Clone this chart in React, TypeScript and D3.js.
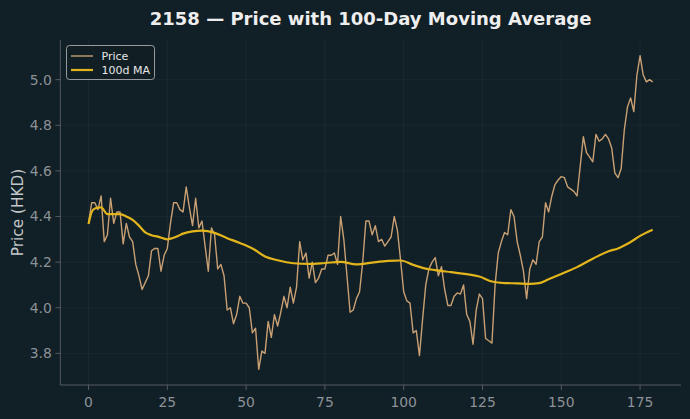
import React, { useEffect } from "react";
import * as d3 from "d3";

// daily close, day 0..179
const price = [
  4.37, 4.46, 4.46, 4.43, 4.49, 4.29, 4.32, 4.48, 4.37, 4.42,
  4.42, 4.28, 4.37, 4.31, 4.29, 4.19, 4.14, 4.08, 4.11, 4.14,
  4.25, 4.26, 4.26, 4.16, 4.23, 4.26, 4.37, 4.46, 4.46, 4.43,
  4.42, 4.53, 4.44, 4.36, 4.48, 4.35, 4.38, 4.27, 4.16, 4.35,
  4.32, 4.17, 4.19, 4.14, 3.99, 4.0, 3.93, 3.97, 4.05, 4.02,
  4.02, 4.0, 3.89, 3.91, 3.73, 3.81, 3.8, 3.94, 3.87, 3.97,
  3.92, 3.98, 4.05, 4.0, 4.09, 4.02, 4.09, 4.29, 4.21, 4.24,
  4.13, 4.2, 4.11, 4.13, 4.17, 4.17, 4.23, 4.23, 4.24, 4.19,
  4.4, 4.3, 4.14, 3.98, 3.99, 4.04, 4.07, 4.2, 4.38, 4.38,
  4.32, 4.36, 4.29, 4.3, 4.27, 4.29, 4.31, 4.4, 4.34, 4.21,
  4.07, 4.03, 4.02, 3.89, 3.9, 3.79, 3.95, 4.1, 4.17, 4.2,
  4.22, 4.14, 4.18, 4.08, 4.01, 4.01, 4.05, 4.065, 4.06, 4.1,
  3.97, 3.94, 3.84, 3.99, 4.06, 4.04, 3.865, 3.855, 3.845, 4.1,
  4.24, 4.29, 4.33, 4.32, 4.43, 4.4, 4.29, 4.23, 4.16, 4.04,
  4.17, 4.21, 4.19, 4.29, 4.31, 4.46, 4.42, 4.49, 4.54, 4.56,
  4.575, 4.57, 4.53, 4.52, 4.51, 4.49, 4.62, 4.75, 4.68, 4.66,
  4.64, 4.76, 4.73, 4.74, 4.76, 4.74, 4.7, 4.59, 4.57, 4.61,
  4.78, 4.88, 4.92, 4.86, 5.02, 5.105, 5.02, 4.99, 5.0, 4.99,
];

// 100d moving average, read at these days
const maDays = [
  0, 1, 2, 4, 6, 8, 10, 12, 14, 16, 18, 20, 22, 25, 28, 30, 33, 36, 40, 44,
  48, 52, 56, 60, 65, 70, 75, 80, 85, 90, 95, 99, 103, 106, 110, 115, 120,
  124, 128, 132, 136, 140, 143, 146, 150, 155, 160, 165, 168, 172, 175, 179,
];
const maValues = [
  4.367, 4.42, 4.435, 4.44, 4.41, 4.41, 4.41, 4.4, 4.385, 4.36, 4.33, 4.318,
  4.312, 4.3, 4.312, 4.325, 4.335, 4.338, 4.328, 4.305, 4.284, 4.26, 4.225,
  4.208, 4.195, 4.192, 4.196, 4.201, 4.19, 4.198, 4.205, 4.207, 4.188, 4.175,
  4.165, 4.156, 4.147, 4.137, 4.115, 4.108, 4.107, 4.105, 4.108, 4.125, 4.148,
  4.178, 4.215, 4.248, 4.26, 4.288, 4.315, 4.342,
];

const xTicks = [0, 25, 50, 75, 100, 125, 150, 175];
const yTicks = [3.8, 4.0, 4.2, 4.4, 4.6, 4.8, 5.0];

const BG = "#111f26";
const PRICE_COLOR = "#c9a074";
const MA_COLOR = "#e3b51c";
const FONT = "DejaVu Sans, sans-serif";

export default function App() {
  useEffect(() => {
    document.body.style.margin = "0";
    document.body.style.background = BG;
  }, []);

  const width = 690;
  const height = 419;
  const left = 60.3;
  const right = 680.9;
  const top = 40;
  const bottom = 385;

  // matplotlib style 5% margins
  const n = price.length;
  const xPad = (n - 1) * 0.05;
  const [lo, hi] = d3.extent(price) as [number, number];
  const yPad = (hi - lo) * 0.05;

  const x = d3.scaleLinear().domain([-xPad, n - 1 + xPad]).range([left, right]);
  const y = d3.scaleLinear().domain([lo - yPad, hi + yPad]).range([bottom, top]);

  const priceLine = d3
    .line<number>()
    .x((_, i) => x(i))
    .y((d) => y(d));

  const maLine = d3
    .line<number>()
    .x((_, i) => x(maDays[i]))
    .y((d) => y(d))
    .curve(d3.curveMonotoneX);

  return (
    <svg
      width={width}
      height={height}
      style={{ position: "absolute", left: 0, top: 0, background: BG }}
      fontFamily={FONT}
    >
      <rect width={width} height={height} fill={BG} />

      {/* grid */}
      <g stroke="#ffffff" strokeOpacity={0.05} strokeWidth={0.8}>
        {xTicks.map((t) => (
          <line key={"gx" + t} x1={x(t)} x2={x(t)} y1={top} y2={bottom} />
        ))}
        {yTicks.map((t) => (
          <line key={"gy" + t} x1={left} x2={right} y1={y(t)} y2={y(t)} />
        ))}
      </g>

      {/* series */}
      <path d={priceLine(price) || ""} fill="none" stroke={PRICE_COLOR} strokeWidth={1.4} strokeLinejoin="round" />
      <path d={maLine(maValues) || ""} fill="none" stroke={MA_COLOR} strokeWidth={2.2} strokeLinejoin="round" />

      {/* spines */}
      <line x1={left} x2={left} y1={top} y2={bottom} stroke="#5b6166" strokeWidth={0.9} />
      <line x1={left} x2={right} y1={bottom} y2={bottom} stroke="#5b6166" strokeWidth={0.9} />

      {/* x axis */}
      <g fill="#8c9297" fontSize={13.9} textAnchor="middle">
        {xTicks.map((t) => (
          <g key={"xt" + t}>
            <line x1={x(t)} x2={x(t)} y1={bottom} y2={bottom + 4.9} stroke="#5b6166" strokeWidth={0.9} />
            <text x={x(t)} y={bottom + 22}>{t}</text>
          </g>
        ))}
      </g>

      {/* y axis */}
      <g fill="#8c9297" fontSize={13.9} textAnchor="end">
        {yTicks.map((t) => (
          <g key={"yt" + t}>
            <line x1={left - 4.9} x2={left} y1={y(t)} y2={y(t)} stroke="#5b6166" strokeWidth={0.9} />
            <text x={left - 8.5} y={y(t)} dy="0.36em">{t.toFixed(1)}</text>
          </g>
        ))}
      </g>

      <text
        transform={`translate(17, ${(top + bottom) / 2}) rotate(-90)`}
        textAnchor="middle"
        dy="0.36em"
        fontSize={15.3}
        fill="#c3c7ca"
      >
        Price (HKD)
      </text>

      <text
        x={(left + right) / 2}
        y={24.5}
        textAnchor="middle"
        fontSize={18}
        fontWeight="bold"
        fill="#eeeeee"
      >
        2158 — Price with 100-Day Moving Average
      </text>

      {/* legend */}
      <g>
        <rect x={66.5} y={45.5} width={88} height={34} rx={3} fill={BG} fillOpacity={0.8} stroke="#cccccc" strokeOpacity={0.8} strokeWidth={0.9} />
        <line x1={71} x2={93} y1={56} y2={56} stroke={PRICE_COLOR} strokeWidth={1.4} />
        <line x1={71} x2={93} y1={70} y2={70} stroke={MA_COLOR} strokeWidth={2.2} />
        <text x={101.5} y={56} dy="0.36em" fontSize={11} fill="#e6e6e6">Price</text>
        <text x={101.5} y={70} dy="0.36em" fontSize={11} fill="#e6e6e6">100d MA</text>
      </g>
    </svg>
  );
}
